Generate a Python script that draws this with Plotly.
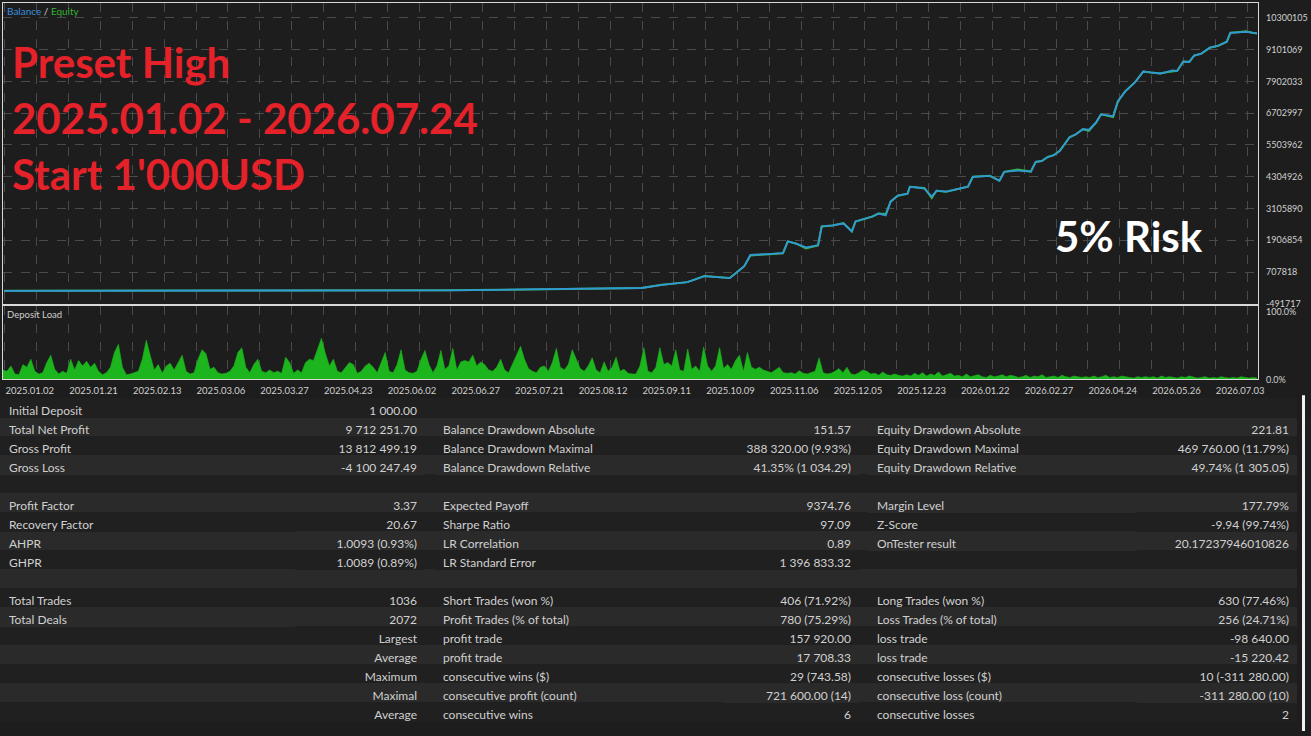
import numpy as np
import plotly.graph_objects as go

W, H = 1311, 736

# balance / equity curve, x = trade number, y = USD
trade_no = [0, 79, 161, 243, 326, 367, 408, 457, 490, 527,
            544, 565, 579, 589, 600, 607, 612, 617, 630, 644,
            648, 655, 663, 673, 676, 685, 694, 701, 704, 711,
            718, 723, 729, 733, 739, 747, 749, 755, 761, 767,
            771, 779, 788, 797, 801, 808, 815, 823, 827, 838,
            849, 853, 858, 863, 868, 873, 881, 886, 892, 897,
            903, 907, 917, 921, 927, 935, 942, 948, 956, 961,
            966, 970, 975, 980, 984, 990, 997, 1004, 1011, 1014,
            1020, 1027, 1032, 1036]
balance_usd = [1000, 1800, 3200, 6500, 13000, 22000, 38000, 62000, 80000, 108000,
               230000, 330000, 557000, 520000, 482000, 745000, 930000, 1355000, 1380000, 1419000,
               1869000, 1780000, 1643000, 1718000, 2430000, 2470000, 2540000, 2243000, 2618000, 2700000,
               2805000, 2917000, 2843000, 3367000, 3592000, 3667000, 3929000, 3900000, 3854000, 3554000,
               3779000, 3742000, 3850000, 3929000, 4304000, 4330000, 4341000, 4154000, 4491000, 4540000,
               4502000, 4866000, 4900000, 5050000, 5120000, 5289000, 5797000, 5900000, 6100000, 6080000,
               6359000, 6659000, 6595000, 7157000, 7527000, 7864000, 8276000, 8240000, 8201000, 8250000,
               8314000, 8300000, 8651000, 8640000, 8876000, 8950000, 9176000, 9250000, 9400000, 9738000,
               9760000, 9775000, 9740000, 9713252]
equity_usd = [1000, 1800, 3200, 6500, 13000, 22000, 38000, 62000, 80000, 108000,
              230000, 330000, 557000, 520000, 482000, 745000, 930000, 1330000, 1380000, 1419000,
              1869000, 1780000, 1600000, 1718000, 2430000, 2470000, 2560000, 2243000, 2618000, 2700000,
              2805000, 2917000, 2900000, 3367000, 3592000, 3667000, 3929000, 3900000, 3880000, 3500000,
              3779000, 3742000, 3850000, 3929000, 4304000, 4330000, 4341000, 4154000, 4491000, 4580000,
              4502000, 4866000, 4900000, 5050000, 5120000, 5289000, 5797000, 5900000, 6100000, 6040000,
              6359000, 6659000, 6560000, 7157000, 7527000, 7864000, 8276000, 8240000, 8201000, 8250000,
              8290000, 8300000, 8651000, 8640000, 8876000, 8950000, 9176000, 9250000, 9400000, 9738000,
              9760000, 9790000, 9740000, 9713252]

# deposit load in %, evenly spread over the trades
deposit_load = [
    14, 12, 20, 8, 7, 22, 18, 30, 12, 8, 10, 25, 36, 15, 8, 12,
    9, 30, 14, 28, 20, 27, 18, 24, 12, 7, 10, 18, 40, 52, 18, 7,
    8, 10, 12, 30, 58, 35, 14, 22, 9, 20, 24, 14, 26, 36, 12, 8,
    10, 30, 44, 38, 15, 18, 10, 8, 9, 12, 20, 40, 47, 18, 10, 22,
    30, 12, 10, 14, 10, 12, 9, 33, 25, 9, 14, 10, 25, 30, 28, 45,
    61, 38, 20, 30, 12, 10, 18, 25, 22, 9, 12, 20, 24, 18, 10, 26,
    40, 12, 10, 22, 44, 14, 10, 9, 12, 30, 43, 22, 10, 20, 43, 15,
    20, 46, 14, 26, 28, 26, 36, 20, 26, 22, 14, 12, 18, 30, 14, 10,
    22, 36, 49, 30, 16, 12, 10, 18, 20, 12, 25, 46, 18, 14, 22, 44,
    30, 16, 12, 20, 32, 14, 10, 26, 12, 18, 33, 12, 15, 9, 8, 8,
    20, 47, 12, 10, 18, 47, 22, 25, 20, 44, 14, 12, 45, 15, 20, 12,
    48, 20, 12, 20, 47, 16, 22, 15, 28, 36, 12, 40, 18, 15, 18, 14,
    12, 10, 14, 18, 10, 9, 10, 8, 13, 9, 8, 10, 12, 32, 10, 8,
    9, 12, 16, 10, 18, 8, 7, 10, 14, 12, 8, 9, 6, 11, 7, 6,
    8, 6, 5, 7, 5, 9, 6, 10, 5, 8, 6, 11, 5, 7, 9, 5,
    6, 4, 8, 4, 5, 7, 4, 3, 6, 4, 5, 7, 4, 6, 5, 3,
    4, 6, 3, 5, 4, 7, 3, 4, 5, 3, 6, 4, 3, 5, 4, 3,
    4, 3, 5, 3, 4, 6, 3, 4, 3, 5, 4, 3, 2, 4, 3, 4,
    3, 4, 2, 5, 3, 4, 3, 2, 4, 3, 5, 3, 2, 3, 4, 2,
    3, 2, 4, 3, 2, 3, 2, 4, 3, 2, 3, 2,
]

date_labels = ["2025.01.02", "2025.01.21", "2025.02.13", "2025.03.06", "2025.03.27", "2025.04.23",
               "2025.06.02", "2025.06.27", "2025.07.21", "2025.08.12", "2025.09.11", "2025.10.09",
               "2025.11.06", "2025.12.05", "2025.12.23", "2026.01.22", "2026.02.27", "2026.04.24",
               "2026.05.26", "2026.07.03"]
y_ticks = [-491717, 707818, 1906854, 3105890, 4304926, 5503962, 6702997, 7902033, 9101069, 10300105]

# report table, one list per column
stat_label_1 = ["Initial Deposit", "Total Net Profit", "Gross Profit", "Gross Loss", "",
                "Profit Factor", "Recovery Factor", "AHPR", "GHPR", "",
                "Total Trades", "Total Deals", "", "", "", "", ""]
stat_value_1 = ["1 000.00", "9 712 251.70", "13 812 499.19", "-4 100 247.49", "",
                "3.37", "20.67", "1.0093 (0.93%)", "1.0089 (0.89%)", "",
                "1036", "2072", "Largest", "Average", "Maximum", "Maximal", "Average"]
stat_label_2 = ["", "Balance Drawdown Absolute", "Balance Drawdown Maximal", "Balance Drawdown Relative", "",
                "Expected Payoff", "Sharpe Ratio", "LR Correlation", "LR Standard Error", "",
                "Short Trades (won %)", "Profit Trades (% of total)", "profit trade", "profit trade",
                "consecutive wins ($)", "consecutive profit (count)", "consecutive wins"]
stat_value_2 = ["", "151.57", "388 320.00 (9.93%)", "41.35% (1 034.29)", "",
                "9374.76", "97.09", "0.89", "1 396 833.32", "",
                "406 (71.92%)", "780 (75.29%)", "157 920.00", "17 708.33",
                "29 (743.58)", "721 600.00 (14)", "6"]
stat_label_3 = ["", "Equity Drawdown Absolute", "Equity Drawdown Maximal", "Equity Drawdown Relative", "",
                "Margin Level", "Z-Score", "OnTester result", "", "",
                "Long Trades (won %)", "Loss Trades (% of total)", "loss trade", "loss trade",
                "consecutive losses ($)", "consecutive loss (count)", "consecutive losses"]
stat_value_3 = ["", "221.81", "469 760.00 (11.79%)", "49.74% (1 305.05)", "",
                "177.79%", "-9.94 (99.74%)", "20.17237946010826", "", "",
                "630 (77.46%)", "256 (24.71%)", "-98 640.00", "-15 220.42",
                "10 (-311 280.00)", "-311 280.00 (10)", "2"]

BG = "#1d1d1d"
GRID = "#4a4a4a"
BORDER = "#d8d8d8"
TXT = "#d0d0d0"


def py(y):
    # pixel row -> paper fraction
    return 1 - y / H


date_pos = [0.65 + 52.68 * k for k in range(len(date_labels))]
mid_pos = [p + 26.34 for p in date_pos]
load_x = np.linspace(-1, 1036, len(deposit_load))

fig = go.Figure()
fig.add_trace(go.Scatter(x=trade_no, y=equity_usd, mode="lines",
                         line=dict(color="#37b24a", width=2), xaxis="x", yaxis="y"))
fig.add_trace(go.Scatter(x=trade_no, y=balance_usd, mode="lines",
                         line=dict(color="#2f9ad6", width=1.8), xaxis="x", yaxis="y"))
fig.add_trace(go.Scatter(x=load_x, y=deposit_load, mode="lines", fill="tozeroy",
                         line=dict(color="#1db51d", width=0.6), fillcolor="#1db51d",
                         xaxis="x2", yaxis="y2"))

# table: spacer columns keep the gaps between the three label/value pairs
cols = [stat_label_1, stat_value_1, [""] * 17, stat_label_2, stat_value_2, [""] * 17,
        stat_label_3, stat_value_3]
row_colors = ["#202020" if i % 2 == 0 else "#2a2a2a" for i in range(17)]
aligns = ["left", "right", "left", "left", "right", "left", "left", "right"]
tfont = dict(family="Lato", size=12, color=TXT)
fig.add_trace(go.Table(
    domain=dict(x=[1 / W, 1303 / W], y=[py(728), py(401)]),
    columnwidth=[296, 130, 10, 290, 136, 10, 270, 160],
    header=dict(values=[c[0] for c in cols], height=19, align=aligns, font=tfont,
                fill_color=row_colors[0], line=dict(color=row_colors[0], width=1)),
    cells=dict(values=[c[1:] for c in cols], height=19, align=aligns, font=tfont,
               fill_color=[row_colors[1:]] * 8, line=dict(color=[row_colors[1:]] * 8, width=1)),
))

axis_common = dict(showline=True, mirror=True, linecolor=BORDER, linewidth=1, zeroline=False,
                   showgrid=True, gridcolor=GRID, griddash="dash", gridwidth=1, ticks="",
                   fixedrange=True)

fig.update_layout(
    width=W, height=H,
    margin=dict(l=0, r=0, t=0, b=0),
    paper_bgcolor=BG, plot_bgcolor=BG,
    showlegend=False,
    xaxis=dict(domain=[3 / W, 1264 / W], range=[-1, 1037], anchor="y",
               tickvals=date_pos, showticklabels=False,
               minor=dict(tickvals=mid_pos, showgrid=True, gridcolor=GRID, griddash="dash"),
               **axis_common),
    yaxis=dict(domain=[py(306), py(3)], range=[-492717, 10861655], anchor="x", side="right",
               tickvals=y_ticks, ticktext=[str(v) for v in y_ticks], ticklabelstandoff=5,
               tickfont=dict(family="Lato", size=9, color=TXT), **axis_common),
    xaxis2=dict(domain=[3 / W, 1264 / W], range=[-1, 1037], anchor="y2",
                tickvals=date_pos, ticktext=date_labels, ticklabelposition="outside right",
                tickfont=dict(family="Lato", size=9.5, color=TXT), ticklabelstandoff=2,
                minor=dict(tickvals=mid_pos, showgrid=True, gridcolor=GRID, griddash="dash"),
                **axis_common),
    yaxis2=dict(domain=[py(382), py(308)], range=[0, 109], anchor="x2", side="right",
                tickvals=[0, 100], ticktext=["0.0%", "100.0%"], ticklabelstandoff=5,
                tickfont=dict(family="Lato", size=9, color=TXT),
                **{**axis_common, "showgrid": False}),
)

red = dict(family="Lato", size=42, color="#e5212a", weight="bold")
notes = [
    dict(text="Preset High", y=py(62), font=red, x=10 / W, xanchor="left"),
    dict(text="2025.01.02 - 2026.07.24", y=py(119), font=red, x=10 / W, xanchor="left"),
    dict(text="Start 1'000USD", y=py(175), font=red, x=10 / W, xanchor="left"),
    dict(text="5% Risk", y=py(238), x=1211 / W, xanchor="right",
         font=dict(family="Lato", size=42, color="#ffffff", weight="bold")),
    dict(text="<span style='color:#3b8fdc'>Balance</span> / <span style='color:#30b030'>Equity</span>",
         y=py(11), x=5 / W, xanchor="left", font=dict(family="Lato", size=10, color=TXT)),
    dict(text="Deposit Load", y=py(317), x=5 / W, xanchor="left",
         font=dict(family="Lato", size=9.5, color=TXT)),
]
for n in notes:
    fig.add_annotation(xref="paper", yref="paper", yanchor="middle", showarrow=False, **n)

# light strip at the right edge under the chart
fig.add_shape(type="rect", xref="paper", yref="paper", x0=1308 / W, x1=1, y0=0, y1=py(398),
              fillcolor="#f2f2f2", line=dict(width=0), layer="above")

fig.write_html("out.html", config={"displayModeBar": False},
               post_script="document.body.style.margin='0';")
